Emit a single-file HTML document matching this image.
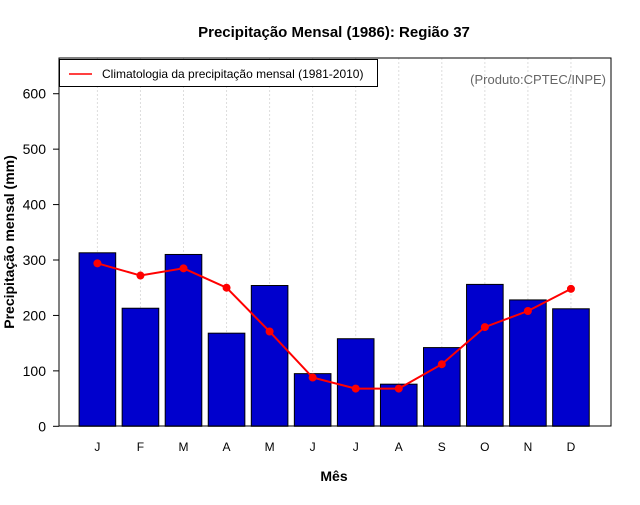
<!DOCTYPE html>
<html><head><meta charset="utf-8"><style>
body{margin:0;background:#fff}
svg text{font-family:"Liberation Sans",sans-serif}
</style></head><body>
<svg id="chart" width="640" height="500" xmlns="http://www.w3.org/2000/svg">
<rect width="640" height="500" fill="#fff"/>
<text x="334" y="37" text-anchor="middle" font-size="15" font-weight="bold">Precipitação Mensal (1986): Região 37</text>
<text x="334" y="481" text-anchor="middle" font-size="14" font-weight="bold">Mês</text>
<text transform="translate(14,242) rotate(-90)" text-anchor="middle" font-size="14" font-weight="bold">Precipitação mensal (mm)</text>
<g id="grid"></g><g id="bars"></g><g id="line"></g><g id="axes"></g>
<rect x="59" y="58" width="552" height="368" fill="none" stroke="#000" stroke-width="1"/>
<g>
<rect x="59.5" y="59.5" width="318" height="27" fill="#fff" stroke="#000"/>
<line x1="69" y1="74" x2="92" y2="74" stroke="#f00" stroke-width="1.5"/>
<text x="102" y="78" font-size="12">Climatologia da precipitação mensal (1981-2010)</text>
</g>
<text x="606" y="84" text-anchor="end" font-size="13" fill="#666">(Produto:CPTEC/INPE)</text>
</svg>
<script>
const months=["J","F","M","A","M","J","J","A","S","O","N","D"];
const observed=[313,213,310,168,254,95,158,76,142,256,228,212];
const climatology=[294,272,285,250,171,88,68,68,112,179,208,248];
const yTicks=[0,100,200,300,400,500,600];
const NS="http://www.w3.org/2000/svg";
function xs(i){return 97.4+43.05*i;}
function ys(v){return 426.3-v*0.5543;}
function mk(tag,attrs,parent){const e=document.createElementNS(NS,tag);for(const k in attrs)e.setAttribute(k,attrs[k]);parent.appendChild(e);return e;}
const grid=document.getElementById('grid'),bars=document.getElementById('bars'),line=document.getElementById('line'),axes=document.getElementById('axes');
months.forEach((m,i)=>{
 const g=mk('line',{x1:xs(i),x2:xs(i),y1:58,y2:426,stroke:'#ddd','stroke-dasharray':'2,2'},grid);
 
 
 const b=mk('rect',{x:xs(i)-18.3,y:ys(observed[i]),width:36.6,height:ys(0)-ys(observed[i]),fill:'#0000cd',stroke:'#000','stroke-width':1},bars);
 
 
 const t=mk('text',{x:xs(i),y:451,'text-anchor':'middle','font-size':12},axes);
 t.textContent=m;
 
 
});
const pl=mk('polyline',{points:climatology.map((v,i)=>xs(i)+','+ys(v)).join(' '),fill:'none',stroke:'#f00','stroke-width':2},line);


climatology.forEach((v,i)=>{
 const c=mk('circle',{cx:xs(i),cy:ys(v),r:4,fill:'#f00'},line);
 
 
});
yTicks.forEach(v=>{
 const l=mk('line',{x1:53,x2:59,y1:ys(v),y2:ys(v),stroke:'#000'},axes);
 
 
 const t=mk('text',{x:46,y:ys(v)+5,'text-anchor':'end','font-size':14},axes);
 t.textContent=v;
 
 
});
</script>
</body></html>
